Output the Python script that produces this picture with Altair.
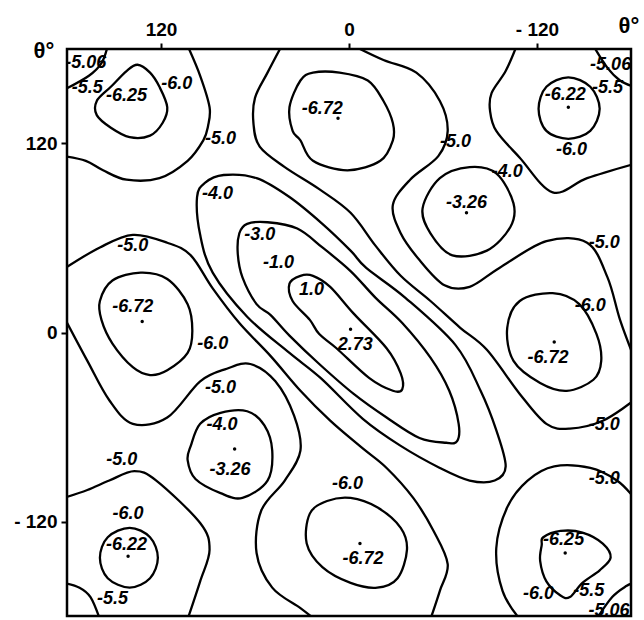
import altair as alt
import pandas as pd

# ---- closed contours (angles in degrees) ----
ring_m625_nw = [(161, 147), (152, 156), (142, 166), (135, 170), (127, 165), (121, 156), (116, 143),
                (119, 133), (127, 125), (140, 124), (152, 130), (161, 138)]
ring_m625_se = [(-124, -130), (-135, -126), (-149, -127), (-162, -134), (-167, -143), (-160, -151),
                (-149, -159), (-141, -168), (-135, -167), (-126, -158), (-122, -145), (-123, -135)]
ring_m622_ne = [(-140, 162), (-154, 156), (-160, 142), (-154, 128), (-140, 123), (-126, 128),
                (-121, 142), (-126, 156)]
ring_m622_sw = [(140, -124), (127, -130), (122, -143), (127, -156), (140, -162), (154, -156),
                (159, -143), (154, -130)]
ring_m672_n = [(31, 160), (23, 165), (6, 165), (-12, 160), (-22, 147), (-28, 133), (-28, 122),
               (-20, 109), (1, 103), (23, 109), (31, 122), (36, 128), (38, 143)]
ring_m672_s = [(25, -115), (14, -107), (-1, -105), (-18, -111), (-33, -124), (-37, -138),
               (-31, -156), (-18, -162), (-1, -159), (17, -149), (27, -134)]
ring_m672_w = [(159, 20), (151, 33), (133, 38), (116, 34), (103, 18), (100, 1), (103, -13),
               (116, -24), (127, -27), (138, -22), (151, -7), (158, 8)]
ring_m672_e = [(-101, 3), (-109, 20), (-130, 25), (-147, 18), (-158, -1), (-161, -18),
               (-156, -30), (-139, -37), (-122, -32), (-105, -18)]
ring_m4_ne = [(-58, 98), (-77, 105), (-94, 101), (-105, 82), (-103, 67), (-88, 52), (-66, 49),
              (-52, 63), (-47, 79)]
ring_m4_sw = [(101, -72), (95, -58), (82, -51), (65, -50), (54, -59), (49, -75), (52, -94),
              (68, -105), (82, -102), (98, -93), (103, -81)]
ring_p1 = [(38, 31), (31, 36), (23, 36), (12, 29), (-3, 12), (-24, -10), (-33, -26), (-34, -36),
           (-28, -37), (-13, -29), (8, -10), (19, -1), (25, 8), (36, 20)]
ring_m3 = [(70, 63), (65, 69), (52, 70), (33, 66), (17, 54), (-1, 39), (-17, 22), (-34, 6),
           (-52, -16), (-64, -37), (-70, -58), (-69, -69), (-62, -70), (-45, -67), (-24, -54),
           (-3, -39), (19, -20), (38, -2), (50, 11), (59, 18), (68, 35), (71, 50)]
ring_m4_band = [(97, 86), (92, 95), (80, 100), (59, 98), (38, 86), (17, 69), (-1, 52), (-11, 41),
                (-36, 22), (-68, -8), (-84, -37), (-94, -62), (-100, -85), (-93, -94), (-77, -94),
                (-58, -86), (-33, -72), (-9, -55), (18, -29), (38, -13), (65, 10), (87, 38),
                (95, 62)]

# ---- open contours running to the frame ----
arc_m55_nw = [(182, 154), (166, 163), (158, 171), (154, 182)]
arc_m55_ne = [(-156, 182), (-165, 168), (-173, 160), (-182, 156)]
arc_m55_se = [(-158, -182), (-168, -168), (-177, -161), (-182, -159)]
arc_m55_sw = [(182, -159), (172, -162), (165, -168), (159, -182)]
line_m5_a = [(103, 182), (95, 163), (89, 143), (90, 131), (93, 122), (103, 109), (121, 98),
             (142, 97), (157, 103), (168, 109), (182, 112)]
line_m5_a2 = [(-109, -182), (-98, -164), (-94, -137), (-101, -111), (-114, -94), (-131, -85),
              (-154, -86), (-171, -94), (-182, -105)]
line_m5_b = [(43, 182), (52, 165), (60, 149), (61, 133), (57, 118), (41, 105), (19, 91), (-1, 76),
             (-17, 55), (-33, 36), (-52, 20), (-71, 3), (-88, -11), (-109, -39), (-126, -58),
             (-141, -61), (-162, -56), (-182, -43)]
line_m5_b2 = [(181, 41), (159, 54), (138, 62), (116, 57), (101, 49), (87, 28), (70, 6), (50, -15),
              (31, -37), (12, -56), (-8, -73), (-24, -86), (-41, -105), (-54, -126), (-63, -147),
              (-58, -164), (-52, -182)]
line_m5_c = [(-3, 182), (-22, 173), (-43, 165), (-58, 147), (-63, 128), (-57, 112), (-39, 97),
             (-28, 81), (-33, 63), (-45, 46), (-61, 30), (-77, 29), (-96, 41), (-126, 58),
             (-152, 57), (-165, 35), (-173, 8), (-182, -16)]
line_m5_c2 = [(182, 10), (167, -18), (153, -43), (138, -58), (116, -54), (95, -31), (78, -23),
              (63, -20), (47, -31), (35, -53), (31, -75), (41, -94), (56, -113), (59, -140),
              (49, -162), (31, -175), (22, -182)]
line_m5_d = [(-107, 182), (-100, 166), (-91, 152), (-90, 141), (-94, 128), (-109, 111),
             (-130, 89), (-152, 98), (-182, 107)]
line_m5_d2 = [(182, -105), (167, -100), (153, -94), (137, -88), (123, -94), (95, -121),
              (89, -138), (95, -158), (103, -182)]

# ---- contour labels and extremum values ----
label_text = ["-5.06", "-5.5", "-6.25", "-6.0", "-5.0", "-6.72", "-5.0", "-4.0", "-3.26",
              "-6.22", "-5.5", "-5.06", "-6.0", "-5.0", "-6.0", "-6.72", "-5.0", "-5.0",
              "-6.25", "-6.0", "-5.5", "-5.06", "-5.0", "-6.72", "-6.0", "-5.0", "-4.0",
              "-3.26", "-5.0", "-6.0", "-6.22", "-5.5", "-6.0", "-6.72", "-4.0", "-3.0",
              "-1.0", "1.0", "2.73"]
label_x = [168, 167, 142, 110, 82, 17, -68, -101, -75,
           -138, -165, -167, -142, -163, -154, -127, -163, -163,
           -137, -121, -153, -166, 138, 138, 87, 82, 81,
           76, 145, 141, 142, 151, 1, -9, 84, 57,
           45, 24, -4]
label_y = [171, 155, 150, 158, 123, 142, 121, 102, 82,
           151, 155, 170, 116, 57, 17, -16, -59, -93,
           -132, -166, -164, -177, 55, 16, -7, -35, -59,
           -87, -81, -115, -135, -169, -96, -144, 88, 62,
           44, 27, -8]

# ---- stationary points ----
dot_x = [7, 132, -131, -7, -75, 73, -1, -140, 141, -138]
dot_y = [136, 7, -6, -134, 76, -74, 2, 143, -142, -140]

closed_paths = {
    "ring_m625_nw": ring_m625_nw, "ring_m625_se": ring_m625_se,
    "ring_m622_ne": ring_m622_ne, "ring_m622_sw": ring_m622_sw,
    "ring_m672_n": ring_m672_n, "ring_m672_s": ring_m672_s,
    "ring_m672_w": ring_m672_w, "ring_m672_e": ring_m672_e,
    "ring_m4_ne": ring_m4_ne, "ring_m4_sw": ring_m4_sw,
    "ring_p1": ring_p1, "ring_m3": ring_m3, "ring_m4_band": ring_m4_band,
}
open_paths = {
    "arc_m55_nw": arc_m55_nw, "arc_m55_ne": arc_m55_ne,
    "arc_m55_se": arc_m55_se, "arc_m55_sw": arc_m55_sw,
    "line_m5_a": line_m5_a, "line_m5_a2": line_m5_a2,
    "line_m5_b": line_m5_b, "line_m5_b2": line_m5_b2,
    "line_m5_c": line_m5_c, "line_m5_c2": line_m5_c2,
    "line_m5_d": line_m5_d, "line_m5_d2": line_m5_d2,
}


def path_table(paths):
    rows = []
    for name, pts in paths.items():
        for i, (px, py) in enumerate(pts):
            rows.append({"path": name, "i": i, "phi": px, "psi": py})
    return pd.DataFrame(rows)


closed_df = path_table(closed_paths)
open_df = path_table(open_paths)
labels_df = pd.DataFrame({"text": label_text, "phi": label_x, "psi": label_y})
dots_df = pd.DataFrame({"phi": dot_x, "psi": dot_y})

FONT = "Liberation Sans"
tick_expr = "datum.value < 0 ? '- ' + toString(-datum.value) : toString(datum.value)"

x_enc = alt.X(
    "phi:Q",
    scale=alt.Scale(domain=[-180, 180], reverse=True, nice=False, zero=False),
    axis=alt.Axis(orient="top", values=[120, 0, -120], labelExpr=tick_expr,
                  title="θ°", titleAngle=0, titleX=551, titleY=-17,
                  titleAlign="left", titleBaseline="alphabetic"),
)
y_enc = alt.Y(
    "psi:Q",
    scale=alt.Scale(domain=[-180, 180], nice=False, zero=False),
    axis=alt.Axis(orient="left", values=[120, 0, -120], labelExpr=tick_expr,
                  title="θ°", titleAngle=0, titleX=-34, titleY=8,
                  titleAlign="left", titleBaseline="alphabetic"),
)

closed_layer = alt.Chart(closed_df).mark_line(
    interpolate="cardinal-closed", color="black", strokeWidth=2.3, clip=True
).encode(x=x_enc, y=y_enc, detail="path:N", order="i:Q")

open_layer = alt.Chart(open_df).mark_line(
    interpolate="cardinal", color="black", strokeWidth=2.3, clip=True
).encode(x="phi:Q", y="psi:Q", detail="path:N", order="i:Q")

text_layer = alt.Chart(labels_df).mark_text(
    font=FONT, fontSize=18, fontStyle="italic", fontWeight="bold", color="black",
    align="center", baseline="middle", clip=True
).encode(x="phi:Q", y="psi:Q", text="text:N")

dot_layer = alt.Chart(dots_df).mark_circle(size=12, color="black", opacity=1).encode(
    x="phi:Q", y="psi:Q"
)

chart = alt.layer(closed_layer, open_layer, text_layer, dot_layer).properties(
    width=564, height=567,
    autosize=alt.AutoSizeParams(type="none"),
    padding={"left": 67, "top": 49, "right": 13, "bottom": 4},
    background="white",
).configure_view(
    stroke="black", strokeWidth=2.5
).configure_axis(
    domain=False, grid=False, ticks=True, tickColor="black", tickWidth=2, tickSize=6,
    labelFont=FONT, labelFontSize=19, labelFontWeight="bold", labelColor="black",
    labelPadding=4, titleFont=FONT, titleFontSize=22, titleFontWeight="bold",
    titleColor="black"
)

chart.save("out.html", embed_options={"renderer": "svg", "actions": False})
